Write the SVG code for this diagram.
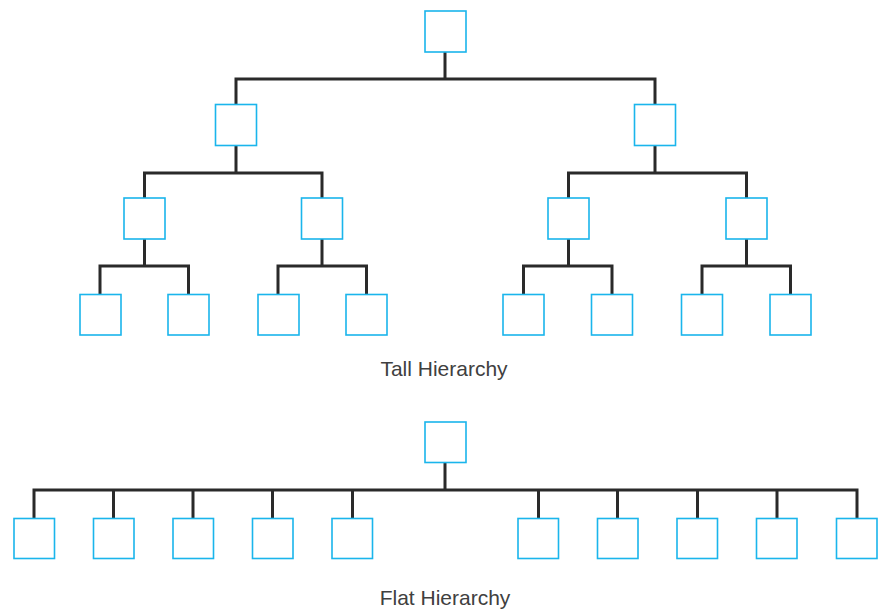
<svg xmlns="http://www.w3.org/2000/svg" width="884" height="610" viewBox="0 0 884 610">
<style>
.b{fill:#fff;stroke:#1ab5ec;stroke-width:1.6}
.c{fill:none;stroke:#2a2a2a;stroke-width:3;stroke-linecap:square}
.t{font-family:"Liberation Sans",Arial,sans-serif;font-size:21px;fill:#404040;text-anchor:middle}
</style>
<rect width="884" height="610" fill="#fff"/>
<g id="connectors">
<path class="c" d="M445 52V79M236 79H655M236 79V104M655 79V104"/>
<path class="c" d="M236 145V173M144.5 173H322M144.5 173V198M322 173V198"/>
<path class="c" d="M655 145V173M568.5 173H746.5M568.5 173V198M746.5 173V198"/>
<path class="c" d="M144.5 239V266M100 266H188.5M100 266V294M188.5 266V294"/>
<path class="c" d="M322 239V266M278 266H366.5M278 266V294M366.5 266V294"/>
<path class="c" d="M568.5 239V266M523.5 266H612M523.5 266V294M612 266V294"/>
<path class="c" d="M746.5 239V266M702 266H790.5M702 266V294M790.5 266V294"/>
<path class="c" d="M445 462V490M34 490H857M34 490V518M113.5 490V518M193 490V518M272.5 490V518M352.5 490V518M538.5 490V518M617.5 490V518M697.5 490V518M777 490V518M857 490V518"/>
</g>
<g id="tall-root"><rect class="b" x="425" y="11" width="41" height="41"/></g>
<g id="tall-l2a"><rect class="b" x="215.5" y="104.5" width="41" height="41"/></g>
<g id="tall-l2b"><rect class="b" x="634.5" y="104.5" width="41" height="41"/></g>
<g id="tall-l3a"><rect class="b" x="124" y="198" width="41" height="41"/></g>
<g id="tall-l3b"><rect class="b" x="301.5" y="198" width="41" height="41"/></g>
<g id="tall-l3c"><rect class="b" x="548" y="198" width="41" height="41"/></g>
<g id="tall-l3d"><rect class="b" x="726" y="198" width="41" height="41"/></g>
<g id="tall-leaf1"><rect class="b" x="80" y="294.5" width="41" height="40.5"/></g>
<g id="tall-leaf2"><rect class="b" x="168" y="294.5" width="41" height="40.5"/></g>
<g id="tall-leaf3"><rect class="b" x="258" y="294.5" width="41" height="40.5"/></g>
<g id="tall-leaf4"><rect class="b" x="346" y="294.5" width="41" height="40.5"/></g>
<g id="tall-leaf5"><rect class="b" x="503" y="294.5" width="41" height="40.5"/></g>
<g id="tall-leaf6"><rect class="b" x="591.5" y="294.5" width="41" height="40.5"/></g>
<g id="tall-leaf7"><rect class="b" x="681.5" y="294.5" width="41" height="40.5"/></g>
<g id="tall-leaf8"><rect class="b" x="770" y="294.5" width="41" height="40.5"/></g>
<g id="tall-label"><text class="t" x="444" y="376">Tall Hierarchy</text></g>
<g id="flat-root"><rect class="b" x="425" y="422" width="41" height="40.5"/></g>
<g id="flat-leaf1"><rect class="b" x="14" y="518.5" width="40.5" height="40"/></g>
<g id="flat-leaf2"><rect class="b" x="93.5" y="518.5" width="40.5" height="40"/></g>
<g id="flat-leaf3"><rect class="b" x="173" y="518.5" width="40.5" height="40"/></g>
<g id="flat-leaf4"><rect class="b" x="252.5" y="518.5" width="40.5" height="40"/></g>
<g id="flat-leaf5"><rect class="b" x="332" y="518.5" width="40.5" height="40"/></g>
<g id="flat-leaf6"><rect class="b" x="518" y="518.5" width="40.5" height="40"/></g>
<g id="flat-leaf7"><rect class="b" x="597.5" y="518.5" width="40.5" height="40"/></g>
<g id="flat-leaf8"><rect class="b" x="677" y="518.5" width="40.5" height="40"/></g>
<g id="flat-leaf9"><rect class="b" x="756.5" y="518.5" width="40.5" height="40"/></g>
<g id="flat-leaf10"><rect class="b" x="836.5" y="518.5" width="40.5" height="40"/></g>
<g id="flat-label"><text class="t" x="445" y="605">Flat Hierarchy</text></g>
</svg>
